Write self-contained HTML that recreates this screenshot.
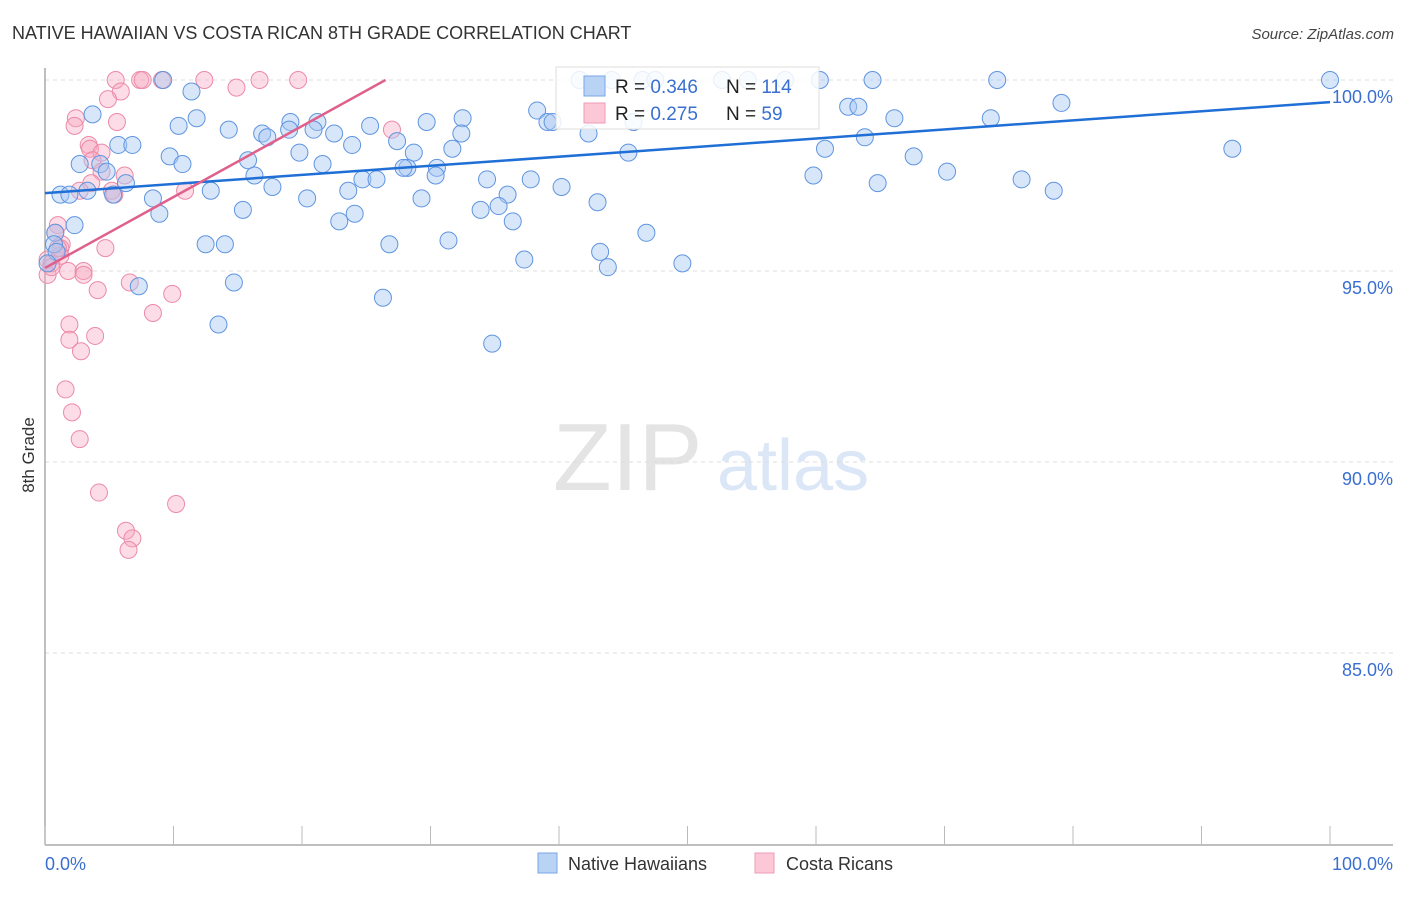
<!DOCTYPE html>
<html><head><meta charset="utf-8">
<style>
body{margin:0;background:#fff;font-family:"Liberation Sans",sans-serif;}
svg text{font-family:"Liberation Sans",sans-serif;}
</style></head>
<body>
<svg id="chart" width="1406" height="892" xmlns="http://www.w3.org/2000/svg">
  <text x="12" y="39" font-size="18" fill="#333">NATIVE HAWAIIAN VS COSTA RICAN 8TH GRADE CORRELATION CHART</text>
  <text x="1394" y="39" font-size="15" fill="#444" text-anchor="end" font-style="italic">Source: ZipAtlas.com</text>
  <g>
    <text x="553" y="490" font-size="96" fill="#e4e4e4" font-family="Liberation Serif, serif">ZIP</text>
    <text x="717" y="490" font-size="72" fill="#dbe6f6">atlas</text>
  </g>
  <g id="grid"></g>
  <g id="axes"></g>
  <g id="pinkPts"></g>
  <g id="bluePts"></g>
  <g id="trends"></g>
  <text transform="translate(34,455) rotate(-90)" font-size="17" fill="#333" text-anchor="middle">8th Grade</text>
  <g>
    <rect x="556" y="67" width="263" height="62" fill="#fff" fill-opacity="0.85" stroke="#ddd"/>
    <rect x="584" y="76" width="21" height="20" fill="#b9d3f5" stroke="#7aa5e6"/>
    <text x="615" y="93" font-size="19" fill="#222">R = <tspan fill="#3a6fd0">0.346</tspan></text>
    <text x="726" y="93" font-size="19" fill="#222">N = <tspan fill="#3a6fd0">114</tspan></text>
    <rect x="584" y="103" width="21" height="20" fill="#fcc8d7" stroke="#ee9bb4"/>
    <text x="615" y="120" font-size="19" fill="#222">R = <tspan fill="#3a6fd0">0.275</tspan></text>
    <text x="726" y="120" font-size="19" fill="#222">N = <tspan fill="#3a6fd0"> 59</tspan></text>
  </g>
  <g>
    <rect x="538" y="853" width="19" height="20" fill="#b9d3f5" stroke="#7aa5e6"/>
    <text x="568" y="870" font-size="18" fill="#333">Native Hawaiians</text>
    <rect x="755" y="853" width="19" height="20" fill="#fcc8d7" stroke="#ee9bb4"/>
    <text x="786" y="870" font-size="18" fill="#333">Costa Ricans</text>
  </g>
</svg>
<script>
const blueX=[9.2,41.6,44.1,46.5,47.5,52.7,54.7,57.6,60.3,64.4,74.1,100,11.4,3.7,11.8,10.4,14.3,16.9,17.3,19.1,19.0,21.2,20.9,22.5,25.3,29.7,32.5,32.4,31.7,38.3,39.1,39.5,42.3,45.8,62.5,63.3,66.1,73.6,79.1,92.4,5.7,6.8,2.7,4.3,4.8,9.7,10.7,15.8,16.3,19.8,21.6,23.9,27.4,28.7,28.2,27.9,30.5,30.4,45.4,60.7,63.8,67.6,70.2,76.0,78.5,59.8,64.8,6.3,3.3,1.2,1.9,5.3,8.4,12.9,17.7,20.4,23.6,24.7,25.8,29.3,34.4,36.0,37.8,40.2,43.0,35.3,33.9,36.4,15.4,8.9,22.9,24.1,2.3,0.8,0.7,0.9,0.2,12.5,14.0,26.8,31.4,43.2,46.8,37.3,43.8,49.6,7.3,14.7,26.3,13.5,34.8];
const blueY=[100,100,100,100,100,100,100,100,100,100,100,100,99.7,99.1,99.0,98.8,98.7,98.6,98.5,98.9,98.7,98.9,98.7,98.6,98.8,98.9,99.0,98.6,98.2,99.2,98.9,98.9,98.6,98.9,99.3,99.3,99.0,99.0,99.4,98.2,98.3,98.3,97.8,97.8,97.6,98.0,97.8,97.9,97.5,98.1,97.8,98.3,98.4,98.1,97.7,97.7,97.7,97.5,98.1,98.2,98.5,98.0,97.6,97.4,97.1,97.5,97.3,97.3,97.1,97.0,97.0,97.0,96.9,97.1,97.2,96.9,97.1,97.4,97.4,96.9,97.4,97.0,97.4,97.2,96.8,96.7,96.6,96.3,96.6,96.5,96.3,96.5,96.2,96.0,95.7,95.5,95.2,95.7,95.7,95.7,95.8,95.5,96.0,95.3,95.1,95.2,94.6,94.7,94.3,93.6,93.1];
const pinkX=[5.5,7.4,7.6,9.1,12.4,16.7,19.7,14.9,5.9,4.9,2.4,2.3,5.6,3.4,3.5,4.4,3.7,4.4,6.2,3.6,2.7,5.2,5.4,10.9,27.0,1.0,0.8,1.3,1.2,0.2,0.5,0.2,1.8,3.0,3.0,4.7,4.1,6.6,9.9,8.4,1.9,1.9,2.8,3.9,1.6,2.1,2.7,4.2,10.2,6.3,6.8,6.5,1.2,1.0,0.5];
const pinkY=[100,100,100,100,100,100,100,99.8,99.7,99.5,99.0,98.8,98.9,98.3,98.2,98.1,97.9,97.6,97.5,97.3,97.1,97.1,97.0,97.1,98.7,96.2,96.0,95.7,95.6,95.3,95.2,94.9,95.0,95.0,94.9,95.6,94.5,94.7,94.4,93.9,93.6,93.2,92.9,93.3,91.9,91.3,90.6,89.2,88.9,88.2,88.0,87.7,95.4,95.6,95.1];
const trendBlue=[97.04,99.42];   // y at x=0 and x=100
const trendPink=[95.08,100,26.5]; // y at x=0, y at end, end x
const yTicks=[100,95,90,85];
const yTickLabels=["100.0%","95.0%","90.0%","85.0%"];
const xTickLabels=["0.0%","100.0%"];

const NS="http://www.w3.org/2000/svg";
const X0=45,X1=1330,Y100=80,PXPER=38.2;
const sx=v=>X0+(X1-X0)*v/100;
const sy=v=>Y100+(100-v)*PXPER;
function mk(tag,attrs,parent){const e=document.createElementNS(NS,tag);for(const k in attrs)e.setAttribute(k,attrs[k]);parent.appendChild(e);return e;}

const grid=document.getElementById('grid');
yTicks.forEach((t,i)=>{
  const l=mk('line',{x1:X0,x2:1393,y1:sy(t),y2:sy(t),stroke:'#ddd','stroke-dasharray':'4,4'},grid);
  
  
  const tx=mk('text',{x:1393,y:sy(t)+23,'font-size':18,fill:'#3a6fd0','text-anchor':'end'},grid);
  
  
  tx.textContent=yTickLabels[i];
});
const axes=document.getElementById('axes');
mk('line',{x1:X0,x2:X0,y1:68,y2:845,stroke:'#aaa','stroke-width':1.5},axes);
mk('line',{x1:X0,x2:1393,y1:845,y2:845,stroke:'#aaa','stroke-width':1.5},axes);
for(let i=0;i<=10;i++){
  const t=mk('line',{x1:sx(i*10),x2:sx(i*10),y1:826,y2:845,stroke:'#bbb'},axes);
  
  
}
const xl0=mk('text',{x:45,y:870,'font-size':18,fill:'#3a6fd0'},axes);


xl0.textContent=xTickLabels[0];
const xl1=mk('text',{x:1393,y:870,'font-size':18,fill:'#3a6fd0','text-anchor':'end'},axes);


xl1.textContent=xTickLabels[1];

const pg=document.getElementById('pinkPts');
pinkX.forEach((x,i)=>{
  const c=mk('circle',{cx:sx(x),cy:sy(pinkY[i]),r:8.5,fill:'#f7a8c0','fill-opacity':0.4,stroke:'#ec8aa8','stroke-width':1},pg);
  
  
});
const bg=document.getElementById('bluePts');
blueX.forEach((x,i)=>{
  const c=mk('circle',{cx:sx(x),cy:sy(blueY[i]),r:8.5,fill:'#a9c8f2','fill-opacity':0.45,stroke:'#5f95e0','stroke-width':1},bg);
  
  
});
const tg=document.getElementById('trends');
const tb=mk('line',{x1:sx(0),y1:sy(trendBlue[0]),x2:sx(100),y2:sy(trendBlue[1]),stroke:'#1f6fd6','stroke-width':2.5},tg);


const tp=mk('line',{x1:sx(0),y1:sy(trendPink[0]),x2:sx(trendPink[2]),y2:sy(trendPink[1]),stroke:'#e0608c','stroke-width':2.5},tg);


</script>
</body></html>
